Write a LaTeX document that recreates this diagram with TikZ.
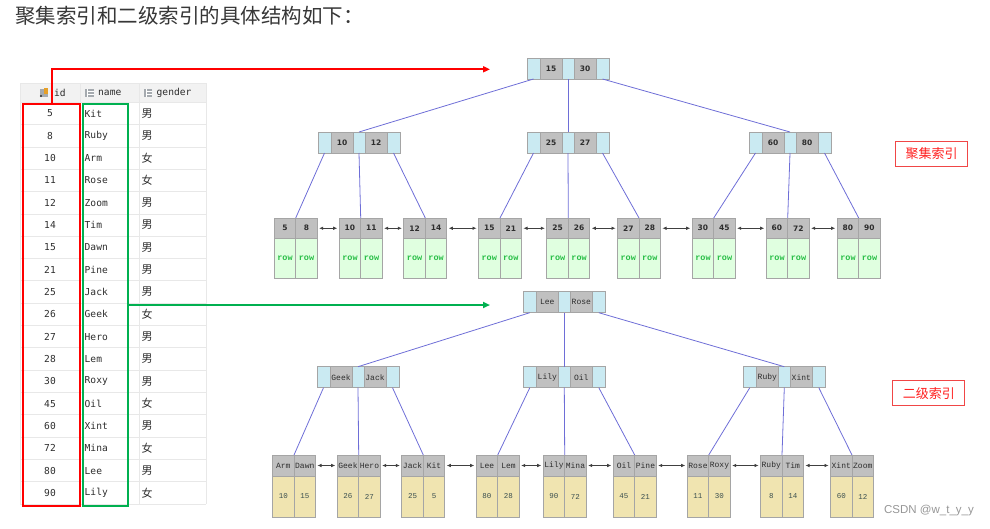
\documentclass[tikz,border=0pt]{standalone}
\usepackage{fontspec}
\usetikzlibrary{arrows.meta}
\newfontfamily\cjkf{Noto Sans CJK SC}
\newfontfamily\tmono{DejaVu Sans Mono}
\newfontfamily\cour{Liberation Mono}
\newfontfamily\lsans{Liberation Sans}
\newfontfamily\dvs{DejaVu Sans}
\definecolor{ptrblue}{RGB}{202,234,242}
\definecolor{keygray}{RGB}{192,192,192}
\definecolor{cellborder}{RGB}{165,165,165}
\definecolor{rowgreen}{RGB}{224,255,224}
\definecolor{rowtext}{RGB}{40,190,70}
\definecolor{valyellow}{RGB}{240,228,176}
\definecolor{valtext}{RGB}{60,80,80}
\definecolor{edgeblue}{RGB}{110,110,215}
\definecolor{arrdark}{RGB}{64,64,64}
\definecolor{boxgreen}{RGB}{0,176,80}
\definecolor{lblred}{RGB}{240,70,70}
\definecolor{lbltext}{RGB}{255,30,30}
\definecolor{gridc}{RGB}{232,232,232}
\definecolor{headbg}{RGB}{242,242,242}
\definecolor{txtc}{RGB}{45,45,45}
\definecolor{titlec}{RGB}{55,55,55}
\definecolor{wmark}{RGB}{150,150,150}
\definecolor{icong}{RGB}{165,170,175}
\definecolor{iconkey}{RGB}{230,160,40}

% inner node: name, left x, top y, key1, key2, prefix (c or s)
\newcommand\mkinner[6]{%
  \node[pcell, anchor=north west, minimum width=13] (#1p1) at (#2,#3) {};
  \node[#6ikey, anchor=north west] (#1k1) at (#1p1.north east) {#4};
  \node[pcell, anchor=north west, minimum width=12] (#1p2) at (#1k1.north east) {};
  \node[#6ikey, anchor=north west] (#1k2) at (#1p2.north east) {#5};
  \node[pcell, anchor=north west, minimum width=13] (#1p3) at (#1k2.north east) {};
}
% leaf: name, split x, top y, key1, key2, val1, val2, prefix
\newcommand\mkleaf[8]{%
  \coordinate (#1) at (#2,#3);
  \node[#8lkey, anchor=north east] (#1a) at (#1) {#4};
  \node[#8lkey, anchor=north west] (#1b) at (#1) {#5};
  \node[#8val, anchor=north] (#1c) at (#1a.south) {#6};
  \node[#8val, anchor=north] (#1d) at (#1b.south) {#7};
}

\begin{document}
\begin{tikzpicture}[x=1pt,y=-1pt,
  cellbase/.style={draw=cellborder, line width=0.9pt, inner sep=0pt, outer sep=0pt, rectangle},
  pcell/.style={cellbase, fill=ptrblue, minimum height=21},
  cikey/.style={cellbase, fill=keygray, minimum width=22, minimum height=21, font=\fontsize{7.5}{9}\dvs\bfseries, text=txtc},
  sikey/.style={cellbase, fill=keygray, minimum width=22, minimum height=21, font=\fontsize{8}{9}\cour, text=txtc},
  clkey/.style={cellbase, fill=keygray, minimum width=21.5, minimum height=20.5, font=\fontsize{7.5}{9}\dvs\bfseries, text=txtc},
  slkey/.style={cellbase, fill=keygray, minimum width=21.5, minimum height=21, font=\fontsize{8}{9}\cour, text=txtc},
  cval/.style={cellbase, fill=rowgreen, minimum width=21.5, minimum height=39.5, font=\fontsize{8.5}{9}\cour\bfseries, text=rowtext},
  sval/.style={cellbase, fill=valyellow, minimum width=21.5, minimum height=41, font=\fontsize{7.5}{9}\cour, text=valtext},
  edge/.style={draw=edgeblue, line width=0.8pt},
  dbl/.style={draw=arrdark, line width=0.6pt, {Latex[length=4pt,width=3.5pt]}-{Latex[length=4pt,width=3.5pt]}, shorten <=2pt, shorten >=2pt},
  tcell/.style={inner sep=0pt, font=\fontsize{9.6}{10}\tmono, text=txtc},
  gcell/.style={inner sep=0pt, font=\fontsize{11}{12}\cjkf, text=txtc},
  lbl/.style={draw=lblred, line width=0.9pt, inner sep=0pt, minimum width=72, minimum height=25, font=\fontsize{13}{14}\cjkf, text=lbltext},
]
\useasboundingbox (0,0) rectangle (990,528);

% title
\node[anchor=west, inner sep=0pt, font=\fontsize{20.5}{22}\cjkf, text=titlec] (title) at (15,16) {聚集索引和二级索引的具体结构如下：};

% ---------------- table ----------------
\fill[headbg] (20,83.3) rectangle (206,102.3);
\foreach \k in {0,...,18} {
  \draw[gridc, line width=0.8pt] (20,{102.3+22.32*\k}) -- (206,{102.3+22.32*\k});
}
\foreach \xx in {20,80,139.3,206} {
  \draw[gridc, line width=0.8pt] (\xx,83.3) -- (\xx,504);
}
\draw[gridc, line width=0.8pt] (20,83.3) -- (206,83.3);
% header icons
\fill[icong] (40,88.5) rectangle (47.5,97);
\fill[iconkey] (43.5,88) rectangle (48,93.5);
\fill[txtc] (41,96) circle (1.2);
\fill[icong] (85,88.5) rectangle (93.5,97);
\fill[icong] (143.5,88.5) rectangle (152,97);
\foreach \xo in {85,143.5} {
  \draw[white, line width=0.5pt] (\xo+2.6,88.5) -- (\xo+2.6,97);
  \draw[white, line width=0.4pt] (\xo+2.6,91.3) -- (\xo+8.5,91.3);
  \draw[white, line width=0.4pt] (\xo+2.6,94.1) -- (\xo+8.5,94.1);
}
\node[tcell, anchor=west] (hid) at (54,92.8) {id};
\node[tcell, anchor=west] (hname) at (98,92.8) {name};
\node[tcell, anchor=west] (hgender) at (156.5,92.8) {gender};

\foreach \idv/\nm/\g [count=\i from 0] in {5/Kit/男, 8/Ruby/男, 10/Arm/女, 11/Rose/女, 12/Zoom/男, 14/Tim/男, 15/Dawn/男, 21/Pine/男, 25/Jack/男, 26/Geek/女, 27/Hero/男, 28/Lem/男, 30/Roxy/男, 45/Oil/女, 60/Xint/男, 72/Mina/女, 80/Lee/男, 90/Lily/女} {
  \pgfmathsetmacro\yc{102.3+22.32*(\i+0.5)}
  \node[tcell] (id\i) at (50,\yc) {\idv};
  \node[tcell, anchor=west] (nm\i) at (84.5,\yc) {\nm};
  \node[gcell, anchor=west] (gd\i) at (141.5,\yc) {\g};
}

% highlight boxes
\node[draw=red, line width=2pt, inner sep=0pt, minimum width=57.3, minimum height=402, anchor=north west] (idbox) at (22,103) {};
\node[draw=boxgreen, line width=2pt, inner sep=0pt, minimum width=45, minimum height=402, anchor=north west] (nmbox) at (81.7,103) {};
\coordinate (rtgt) at (490,69.3);
\coordinate (gtgt) at (490,305);
\draw[red, line width=1.8pt, -{Triangle[length=7pt,width=6pt]}] (idbox.north) |- (rtgt);
\draw[boxgreen, line width=1.8pt, -{Triangle[length=7pt,width=6pt]}] (nmbox.east |- gtgt) -- (gtgt);

% ---------------- clustered index ----------------
\mkinner{cr}{527}{58}{15}{30}{c}
\mkinner{ca}{318}{132}{10}{12}{c}
\mkinner{cb}{527}{132}{25}{27}{c}
\mkinner{cc}{749}{132}{60}{80}{c}

\mkleaf{cl1}{295.7}{218}{5}{8}{row}{row}{c}
\mkleaf{cl2}{360.7}{218}{10}{11}{row}{row}{c}
\mkleaf{cl3}{425.3}{218}{12}{14}{row}{row}{c}
\mkleaf{cl4}{500}{218}{15}{21}{row}{row}{c}
\mkleaf{cl5}{568.3}{218}{25}{26}{row}{row}{c}
\mkleaf{cl6}{639}{218}{27}{28}{row}{row}{c}
\mkleaf{cl7}{713.7}{218}{30}{45}{row}{row}{c}
\mkleaf{cl8}{787.7}{218}{60}{72}{row}{row}{c}
\mkleaf{cl9}{858.7}{218}{80}{90}{row}{row}{c}

\draw[edge] (crp1.south) -- (cap2.north);
\draw[edge] (crp2.south) -- (cbp2.north);
\draw[edge] (crp3.south) -- (ccp2.north);
\draw[edge] (cap1.south) -- (cl1);
\draw[edge] (cap2.south) -- (cl2);
\draw[edge] (cap3.south) -- (cl3);
\draw[edge] (cbp1.south) -- (cl4);
\draw[edge] (cbp2.south) -- (cl5);
\draw[edge] (cbp3.south) -- (cl6);
\draw[edge] (ccp1.south) -- (cl7);
\draw[edge] (ccp2.south) -- (cl8);
\draw[edge] (ccp3.south) -- (cl9);
\foreach \a/\b in {1/2,2/3,3/4,4/5,5/6,6/7,7/8,8/9} {
  \draw[dbl] (cl\a b.east) -- (cl\b a.west);
}
\node[lbl] (clabel) at (931.5,153.8) {聚集索引};

% ---------------- secondary index ----------------
\mkinner{sr}{523.3}{291.7}{Lee}{Rose}{s}
\mkinner{sa}{317}{366.7}{Geek}{Jack}{s}
\mkinner{sb}{523.3}{366.7}{Lily}{Oil}{s}
\mkinner{sc}{743.3}{366.7}{Ruby}{Xint}{s}

\mkleaf{sl1}{294}{455}{Arm}{Dawn}{10}{15}{s}
\mkleaf{sl2}{358.7}{455}{Geek}{Hero}{26}{27}{s}
\mkleaf{sl3}{423.3}{455}{Jack}{Kit}{25}{5}{s}
\mkleaf{sl4}{497.7}{455}{Lee}{Lem}{80}{28}{s}
\mkleaf{sl5}{564.7}{455}{Lily}{Mina}{90}{72}{s}
\mkleaf{sl6}{634.7}{455}{Oil}{Pine}{45}{21}{s}
\mkleaf{sl7}{708.7}{455}{Rose}{Roxy}{11}{30}{s}
\mkleaf{sl8}{782}{455}{Ruby}{Tim}{8}{14}{s}
\mkleaf{sl9}{852}{455}{Xint}{Zoom}{60}{12}{s}

\draw[edge] (srp1.south) -- (sap2.north);
\draw[edge] (srp2.south) -- (sbp2.north);
\draw[edge] (srp3.south) -- (scp2.north);
\draw[edge] (sap1.south) -- (sl1);
\draw[edge] (sap2.south) -- (sl2);
\draw[edge] (sap3.south) -- (sl3);
\draw[edge] (sbp1.south) -- (sl4);
\draw[edge] (sbp2.south) -- (sl5);
\draw[edge] (sbp3.south) -- (sl6);
\draw[edge] (scp1.south) -- (sl7);
\draw[edge] (scp2.south) -- (sl8);
\draw[edge] (scp3.south) -- (sl9);
\foreach \a/\b in {1/2,2/3,3/4,4/5,5/6,6/7,7/8,8/9} {
  \draw[dbl] (sl\a b.east) -- (sl\b a.west);
}
\node[lbl] (slabel) at (928.8,393.2) {二级索引};

% watermark
\node[inner sep=0pt, font=\fontsize{11.5}{12}\lsans, text=wmark] (wm) at (929,511) {CSDN @w\_t\_y\_y};
\end{tikzpicture}
\end{document}
